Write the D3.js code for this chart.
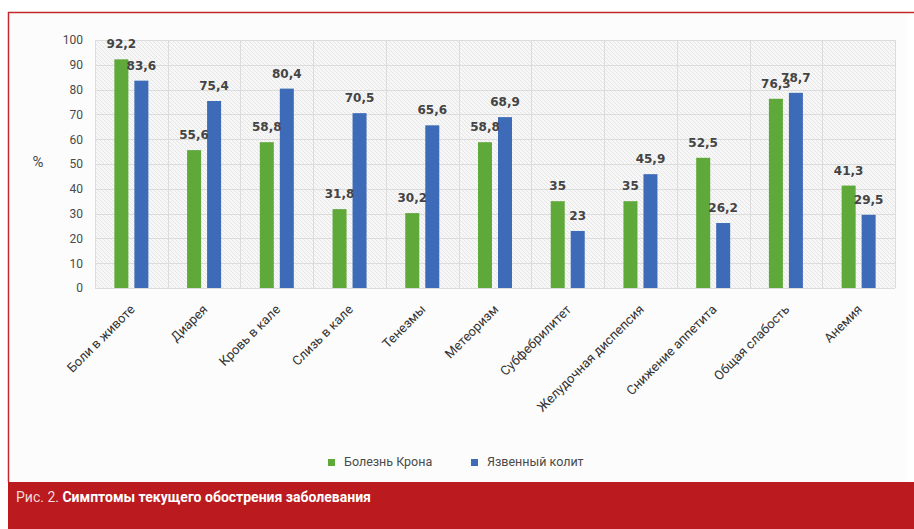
<!DOCTYPE html>
<html>
<head>
<meta charset="utf-8">
<script src="https://cdn.jsdelivr.net/npm/d3@7"></script>
<style>
  body { margin: 0; background: #ffffff; }
  svg { display: block; }
</style>
</head>
<body>
<div id="chart"></div>
<script>
// Chart data
var categories = ['Боли в животе', 'Диарея', 'Кровь в кале', 'Слизь в кале', 'Тенезмы', 'Метеоризм',
  'Субфебрилитет', 'Желудочная диспепсия', 'Снижение аппетита', 'Общая слабость', 'Анемия'];
var seriesNames = ['Болезнь Крона', 'Язвенный колит'];
var crohnValues = [92.2, 55.6, 58.8, 31.8, 30.2, 58.8, 35, 35, 52.5, 76.3, 41.3];
var colitisValues = [83.6, 75.4, 80.4, 70.5, 65.6, 68.9, 23, 45.9, 26.2, 78.7, 29.5];
var yTicks = [0, 10, 20, 30, 40, 50, 60, 70, 80, 90, 100];
var colors = ['#5fa83a', '#3e6bb8'];

var width = 914, height = 529;
var plot = { left: 95, right: 895, top: 40, bottom: 288 };
var narrow = '"Liberation Sans Narrow", "Arial Narrow", "Roboto", sans-serif';

var svg = d3.select('#chart').append('svg')
  .attr('width', width)
  .attr('height', height);

// hatch pattern for the plot background
var defs = svg.append('defs');
var pat = defs.append('pattern')
  .attr('id', 'hatch')
  .attr('patternUnits', 'userSpaceOnUse')
  .attr('width', 4)
  .attr('height', 4);
pat.append('rect').attr('width', 4).attr('height', 4).attr('fill', '#f7f7f7');
pat.append('path')
  .attr('d', 'M-1,-1 L5,5 M-1,3 L1,5 M3,-1 L5,1')
  .attr('stroke', '#e2e2e2')
  .attr('stroke-width', 0.8);

// frame
svg.append('rect')
  .attr('x', 8).attr('y', 12)
  .attr('width', 898).attr('height', 470)
  .attr('fill', '#fcfcfc');
svg.append('line')
  .attr('x1', 8).attr('x2', width).attr('y1', 12.5).attr('y2', 12.5)
  .attr('stroke', '#c4282e').attr('stroke-width', 1.5);
svg.append('line')
  .attr('x1', 8.5).attr('x2', 8.5).attr('y1', 12).attr('y2', 482)
  .attr('stroke', '#c4282e').attr('stroke-width', 1.5);

// footer
svg.append('rect')
  .attr('x', 8).attr('y', 482)
  .attr('width', width - 8).attr('height', height - 482)
  .attr('fill', '#bb1a1e');

var caption = svg.append('text')
  .attr('x', 16).attr('y', 502)
  .style('font-family', narrow)
  .style('font-size', '14px')
  .attr('fill', '#f3dada');
caption.append('tspan').text('Рис. 2. ');
caption.append('tspan')
  .style('font-weight', 'bold')
  .attr('fill', '#ffffff')
  .text('Симптомы текущего обострения заболевания');

// scales
var x0 = d3.scaleBand()
  .domain(categories)
  .range([plot.left, plot.right]);

var bw = x0.bandwidth();
var x1 = d3.scaleBand()
  .domain([0, 1])
  .range([bw / 2 - 17, bw / 2 + 17])
  .paddingInner(0.3);

var y = d3.scaleLinear()
  .domain([0, 100])
  .range([plot.bottom, plot.top]);

// plot background + grid
svg.append('rect')
  .attr('x', plot.left).attr('y', plot.top)
  .attr('width', plot.right - plot.left).attr('height', plot.bottom - plot.top)
  .attr('fill', 'url(#hatch)');

svg.append('g')
  .selectAll('line.hgrid')
  .data(yTicks)
  .enter().append('line')
  .attr('class', 'hgrid')
  .attr('x1', plot.left).attr('x2', plot.right)
  .attr('y1', function (d) { return Math.round(y(d)) + 0.5; })
  .attr('y2', function (d) { return Math.round(y(d)) + 0.5; })
  .attr('stroke', '#dcdcdc');

svg.append('g')
  .selectAll('line.vgrid')
  .data(categories.concat(['end']))
  .enter().append('line')
  .attr('class', 'vgrid')
  .attr('x1', function (d, i) { return Math.round(plot.left + i * bw) + 0.5; })
  .attr('x2', function (d, i) { return Math.round(plot.left + i * bw) + 0.5; })
  .attr('y1', plot.top).attr('y2', plot.bottom)
  .attr('stroke', '#dcdcdc');

// y axis
var yAxis = d3.axisLeft(y)
  .tickValues(yTicks)
  .tickSize(0)
  .tickPadding(12);

var yg = svg.append('g')
  .attr('transform', 'translate(' + plot.left + ',0)')
  .call(yAxis);
yg.select('.domain').remove();
yg.selectAll('text')
  .style('font-family', narrow)
  .style('font-size', '12px')
  .attr('fill', '#4a4a4a');

svg.append('text')
  .attr('x', 38).attr('y', 167)
  .attr('text-anchor', 'middle')
  .style('font-family', narrow)
  .style('font-size', '15px')
  .attr('fill', '#4a4a4a')
  .text('%');

// x axis labels
var xAxis = d3.axisBottom(x0).tickSize(0).tickPadding(0);
var xg = svg.append('g')
  .attr('transform', 'translate(0,' + plot.bottom + ')')
  .call(xAxis);
xg.select('.domain').remove();
xg.selectAll('text')
  .attr('text-anchor', 'end')
  .attr('transform', 'translate(1,19) rotate(-45)')
  .attr('dy', '0.35em')
  .style('font-family', narrow)
  .style('font-size', '13px')
  .attr('fill', '#333');

// bars
var rows = categories.map(function (c, i) {
  return { cat: c, vals: [crohnValues[i], colitisValues[i]] };
});

var groups = svg.append('g')
  .selectAll('g.group')
  .data(rows)
  .enter().append('g')
  .attr('class', 'group')
  .attr('transform', function (d) { return 'translate(' + x0(d.cat) + ',0)'; });

groups.selectAll('rect')
  .data(function (d) { return d.vals; })
  .enter().append('rect')
  .attr('x', function (d, i) { return x1(i); })
  .attr('y', function (d) { return y(d); })
  .attr('width', x1.bandwidth())
  .attr('height', function (d) { return y(0) - y(d); })
  .attr('fill', function (d, i) { return colors[i]; });

groups.selectAll('text')
  .data(function (d) { return d.vals; })
  .enter().append('text')
  .attr('x', function (d, i) { return x1(i) + x1.bandwidth() / 2; })
  .attr('y', function (d) { return y(d) - 11; })
  .attr('text-anchor', 'middle')
  .style('font-family', '"DejaVu Sans", sans-serif')
  .style('font-weight', 'bold')
  .style('font-size', '12px')
  .attr('fill', '#444')
  .text(function (d) { return String(d).replace('.', ','); });

// legend
var legendX = [328, 471];
var legend = svg.append('g')
  .selectAll('g.leg')
  .data(seriesNames)
  .enter().append('g')
  .attr('class', 'leg')
  .attr('transform', function (d, i) { return 'translate(' + legendX[i] + ',459)'; });

legend.append('rect')
  .attr('width', 7).attr('height', 7)
  .attr('fill', function (d, i) { return colors[i]; });

legend.append('text')
  .attr('x', 16).attr('y', 7)
  .style('font-family', narrow)
  .style('font-size', '12.5px')
  .attr('fill', '#4a4a4a')
  .text(function (d) { return d; });
</script>
</body>
</html>
